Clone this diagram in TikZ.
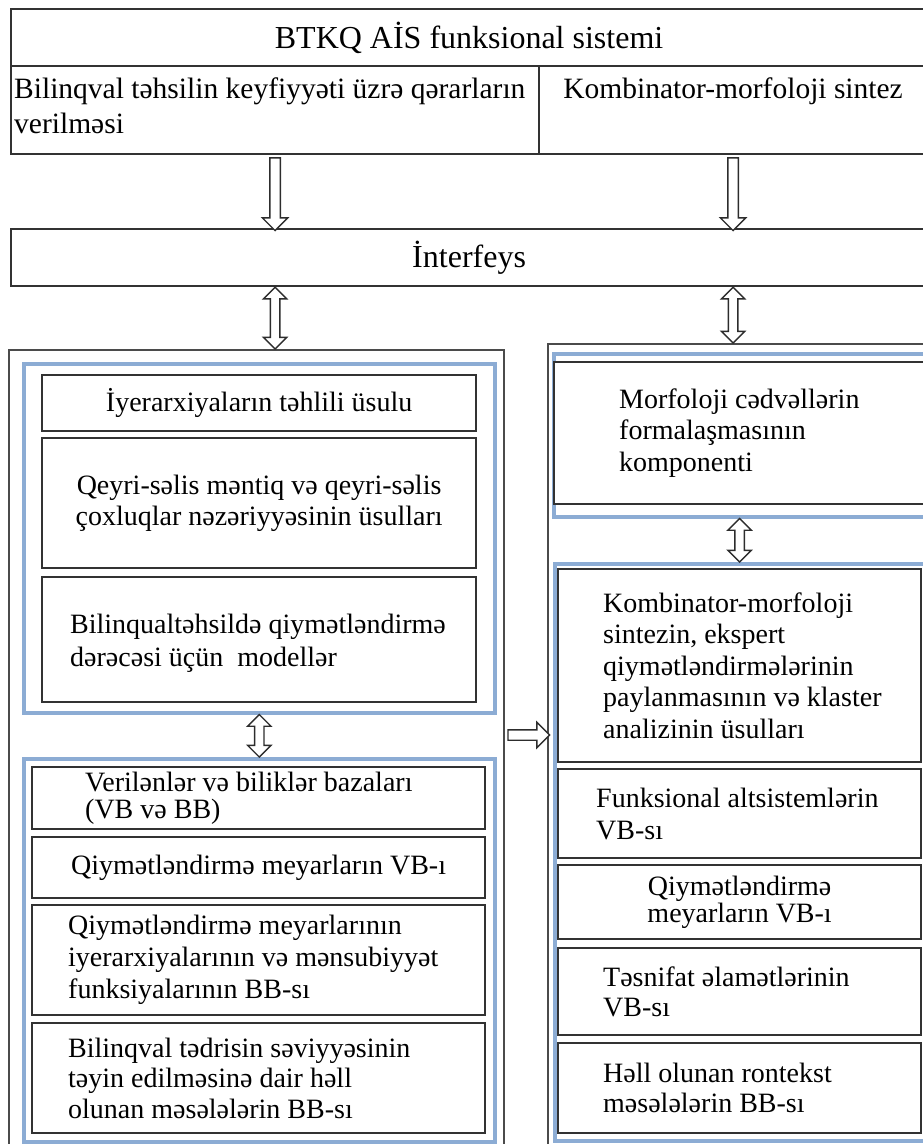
\documentclass[tikz,border=0pt]{standalone}
\usepackage{fontspec}
\setmainfont{Liberation Serif}
\usetikzlibrary{positioning,calc,shapes.arrows}

\definecolor{boxgray}{RGB}{50,50,50}
\definecolor{outgray}{RGB}{75,75,75}
\definecolor{grpblue}{RGB}{140,172,212}
\definecolor{arrowgray}{RGB}{45,45,45}

\newcommand{\boxfont}{\fontsize{28}{31.5}\selectfont}
\newcommand{\topfont}{\fontsize{29.5}{35}\selectfont}
% hollow block arrow stretched between two points
\newcommand{\linkarrow}[3]{\path let \p1=(#2), \p2=(#3), \n1={veclen(\x2-\x1,\y2-\y1)} in
  (\p1) -- (\p2) node[midway, sloped, #1, minimum height=\n1] {};}

\begin{document}
\begin{tikzpicture}[x=1pt, y=-1pt,
    frame/.style={draw=boxgray, line width=2.2pt, fill=white, anchor=north west, inner sep=0pt},
    outer/.style={draw=outgray, line width=2.4pt, anchor=north west, inner sep=0pt},
    group/.style={draw=grpblue, line width=3.5pt, anchor=north west, inner sep=0pt},
    txt/.style={inner sep=0pt, align=left, font=\boxfont},
    blockarrow/.style={single arrow, draw=arrowgray, fill=white, line width=1.4pt,
      inner xsep=0pt, inner ysep=4.5pt, single arrow head extend=7.5pt, allow upside down},
    dblarrow/.style={double arrow, draw=arrowgray, fill=white, line width=1.4pt,
      inner xsep=0pt, inner ysep=4pt, double arrow head extend=7pt, allow upside down}]
  \useasboundingbox (0,0) rectangle (923,1144);

  % Top block: system and its two parts
  \node[frame, minimum width=916pt, minimum height=57pt, font=\fontsize{32}{36}\selectfont]
    (title) at (10,8) {BTKQ AİS funksional sistemi};
  \node[frame, minimum width=528pt, minimum height=88pt] (cellL) at (10,65) {};
  \node[frame, minimum width=388pt, minimum height=88pt] (cellR) at (538,65) {};
  \node[txt, font=\topfont, anchor=north west, xshift=4pt] at (cellL.north west |- 0,78)
    {Bilinqval təhsilin keyfiyyəti üzrə qərarların\\verilməsi};
  \node[txt, font=\topfont, anchor=north] at (cellR.north |- 0,78) {Kombinator-morfoloji sintez};

  % Interface
  \node[frame, minimum width=916pt, minimum height=57pt, font=\fontsize{32}{36}\selectfont]
    (iface) at (10,228) {İnterfeys};

  % Outer boxes
  \node[outer, minimum width=495pt, minimum height=830pt] (leftouter) at (8,349) {};
  \node[outer, minimum width=400pt, minimum height=830pt] (rightouter) at (547,343) {};

  % Left side: methods
  \node[group, minimum width=471pt, minimum height=349pt] (lgrp1) at (22,362) {};
  \node[frame, minimum width=434pt, minimum height=56pt, font=\boxfont] (boxA) at (41,374)
    {İyerarxiyaların təhlili üsulu};
  \node[frame, minimum width=434pt, minimum height=130pt, font=\boxfont, align=center] (boxB) at (41,437)
    {Qeyri-səlis məntiq və qeyri-səlis\\çoxluqlar nəzəriyyəsinin üsulları};
  \node[frame, minimum width=434pt, minimum height=125pt] (boxC) at (41,576) {};
  \node[txt, anchor=west, xshift=29pt, yshift=-4pt, font=\fontsize{28}{33}\selectfont] at (boxC.west)
    {Bilinqualtəhsildə qiymətləndirmə\\dərəcəsi üçün\ \ modellər};

  % Left side: data and knowledge bases
  \node[group, minimum width=471pt, minimum height=383pt] (lgrp2) at (22,757) {};
  \node[frame, minimum width=453pt, minimum height=62pt] (boxD) at (31,766) {};
  \node[txt, anchor=west, xshift=54pt, font=\fontsize{28}{27}\selectfont] at (boxD.west)
    {Verilənlər və biliklər bazaları\\(VB və BB)};
  \node[frame, minimum width=453pt, minimum height=61pt, font=\boxfont] (boxE) at (31,836)
    {Qiymətləndirmə meyarların VB-ı};
  \node[frame, minimum width=453pt, minimum height=110pt] (boxF) at (31,904) {};
  \node[txt, anchor=west, xshift=37pt, font=\fontsize{28}{32}\selectfont] at (boxF.west)
    {Qiymətləndirmə meyarlarının\\iyerarxiyalarının və mənsubiyyət\\funksiyalarının BB-sı};
  \node[frame, minimum width=453pt, minimum height=110pt] (boxG) at (31,1022) {};
  \node[txt, anchor=west, xshift=37pt, font=\fontsize{28}{30.5}\selectfont] at (boxG.west)
    {Bilinqval tədrisin səviyyəsinin\\təyin edilməsinə dair həll\\olunan məsələlərin BB-sı};

  % Right side: morphological tables
  \node[group, minimum width=390pt, minimum height=163pt] (rgrp1) at (552,352) {};
  \node[frame, minimum width=390pt, minimum height=142pt] (boxH) at (553,361) {};
  \node[txt, anchor=west, xshift=66pt] at (boxH.west)
    {Morfoloji cədvəllərin\\formalaşmasının\\komponenti};

  % Right side: synthesis and bases
  \node[group, minimum width=390pt, minimum height=577pt] (rgrp2) at (553,562) {};
  \node[frame, minimum width=363pt, minimum height=193pt] (boxI) at (557,568) {};
  \node[txt, anchor=west, xshift=46pt] at (boxI.west)
    {Kombinator-morfoloji\\sintezin, ekspert\\qiymətləndirmələrinin\\paylanmasının və klaster\\analizinin üsulları};
  \node[frame, minimum width=363pt, minimum height=89pt] (boxJ) at (557,768) {};
  \node[txt, anchor=west, xshift=39pt, font=\fontsize{28}{32}\selectfont] at (boxJ.west)
    {Funksional altsistemlərin\\VB-sı};
  \node[frame, minimum width=363pt, minimum height=74pt, align=center, font=\fontsize{28}{25}\selectfont]
    (boxK) at (557,864) {Qiymətləndirmə\\meyarların VB-ı};
  \node[frame, minimum width=363pt, minimum height=87pt] (boxL) at (557,947) {};
  \node[txt, anchor=west, xshift=46pt, font=\fontsize{28}{30}\selectfont] at (boxL.west)
    {Təsnifat əlamətlərinin\\VB-sı};
  \node[frame, minimum width=363pt, minimum height=90pt] (boxM) at (557,1042) {};
  \node[txt, anchor=west, xshift=46pt, font=\fontsize{28}{30}\selectfont] at (boxM.west)
    {Həll olunan rontekst\\məsələlərin BB-sı};

  % Arrows
  \linkarrow{blockarrow}{cellL.south}{cellL.south |- iface.north}
  \linkarrow{blockarrow}{cellR.south}{cellR.south |- iface.north}
  \linkarrow{dblarrow}{cellL.south |- iface.south}{cellL.south |- leftouter.north}
  \linkarrow{dblarrow}{cellR.south |- iface.south}{cellR.south |- rightouter.north}
  \linkarrow{dblarrow}{lgrp1.south}{lgrp2.north}
  \linkarrow{dblarrow}{boxI.north |- rgrp1.south}{boxI.north |- rgrp2.north}
  \coordinate (harrow) at (0,735);
  \linkarrow{blockarrow}{leftouter.east |- harrow}{rightouter.west |- harrow}
\end{tikzpicture}
\end{document}
